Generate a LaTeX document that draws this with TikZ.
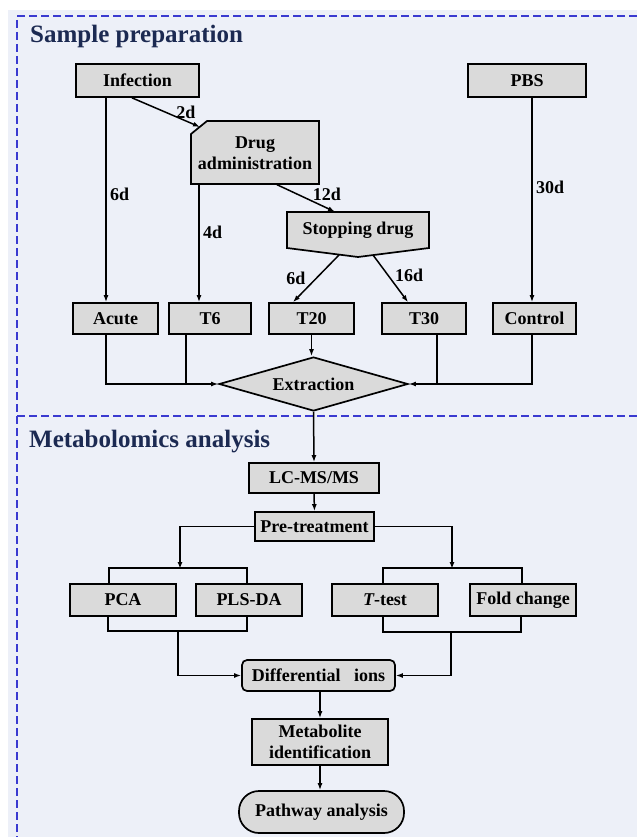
\documentclass[tikz,border=0pt]{standalone}
\usepackage{fontspec}
\setmainfont{Liberation Serif}
\usepackage{tikz}
\usetikzlibrary{arrows.meta, shapes.geometric}

\definecolor{panelbg}{HTML}{EDF0F8}
\definecolor{boxgray}{HTML}{DADADA}
\definecolor{dashblue}{HTML}{3A3AD0}
\definecolor{headnavy}{HTML}{1C2A52}

\begin{document}
\begin{tikzpicture}[x=1pt, y=-1pt,
    box/.style={draw=black, fill=boxgray, line width=1.7pt, inner sep=0pt, align=center,
        font=\fontsize{18}{21}\selectfont\bfseries},
    bare/.style={inner sep=0pt, align=center, font=\fontsize{18}{21}\selectfont\bfseries},
    outline/.style={draw=black, fill=boxgray, line width=1.7pt},
    flow/.style={line width=1.5pt, -{Latex[length=7pt, width=5pt]}},
    link/.style={line width=1.5pt},
    days/.style={inner sep=0pt, font=\fontsize{18}{21}\selectfont\bfseries},
    heading/.style={inner sep=0pt, anchor=base west, text=headnavy,
        font=\fontsize{25}{28}\selectfont\bfseries},
    frame/.style={draw=dashblue, line width=1.5pt, dash pattern=on 8pt off 4pt}]
    \useasboundingbox (0,0) rectangle (637,837);
    \fill[white] (0,0) rectangle (637,837);
    \fill[panelbg] (8,10) rectangle (637,837);
    \draw[frame] (637,16) -- (17,16) -- (17,837);
    \draw[frame] (17,416) -- (637,416);

    \node[heading] (hsample) at (30,43) {Sample preparation};
    \node[heading] (hmetab) at (29,447) {Metabolomics analysis};

    \node[box, minimum width=123pt, minimum height=33pt] (infection) at (137.5,80.5) {Infection};
    \node[box, minimum width=118pt, minimum height=33pt] (pbs) at (527,80.5) {PBS};

    \filldraw[outline] (207,121) -- (319,121) -- (319,184) -- (191,184) -- (191,134) -- cycle;
    \node[bare, minimum width=128pt, minimum height=63pt] (drug) at (255,153) {Drug\\administration};
    \coordinate (drugin) at (200,127);

    \filldraw[outline] (287,212) -- (429,212) -- (429,248) -- (358,257) -- (287,248) -- cycle;
    \node[bare, minimum width=142pt, minimum height=36pt] (stop) at (358,230) {Stopping drug};
    \coordinate (stopl) at (339,255);
    \coordinate (stopr) at (373,255);

    \node[box, minimum width=85pt, minimum height=31pt] (acute) at (115.5,318.5) {Acute};
    \node[box, minimum width=82pt, minimum height=31pt] (t6) at (210,318.5) {T6};
    \node[box, minimum width=85pt, minimum height=31pt] (t20) at (311.5,318.5) {T20};
    \node[box, minimum width=84pt, minimum height=31pt] (t30) at (424,318.5) {T30};
    \node[box, minimum width=83pt, minimum height=31pt] (control) at (534.5,318.5) {Control};
    \node[box, diamond, aspect=3.5, minimum width=189pt, minimum height=54pt] (extract) at (313.5,384) {Extraction};

    \draw[flow] ([xshift=-5.5pt]infection.south) -- (drugin);
    \draw[flow] ([xshift=-31.5pt]infection.south) -- ([xshift=-9.5pt]acute.north);
    \draw[flow] ([xshift=-56pt]drug.south) -- ([xshift=-11pt]t6.north);
    \draw[flow] ([xshift=22pt]drug.south) -- ([xshift=-23pt]stop.north);
    \draw[flow] ([xshift=5pt]pbs.south) -- ([xshift=-2.5pt]control.north);
    \draw[flow] (stopl) -- ([xshift=-18.5pt]t20.north);
    \draw[flow] (stopr) -- ([xshift=-16pt]t30.north);

    \node[days] (d2) at (186,112) {2d};
    \node[days, anchor=west] (d6a) at (110,194) {6d};
    \node[days, anchor=west] (d4) at (203,232) {4d};
    \node[days] (d12) at (327,194) {12d};
    \node[days, anchor=west] (d30) at (536,187) {30d};
    \node[days] (d6b) at (296,278) {6d};
    \node[days] (d16) at (409,275) {16d};

    \draw[flow] ([xshift=-9.5pt]acute.south) |- (extract.west);
    \draw[link] ([xshift=-24pt]t6.south) -- ([xshift=-24pt]t6.south |- extract.west);
    \draw[flow] (t20.south) -- (t20.south |- extract.north);
    \draw[flow] ([xshift=-2.5pt]control.south) |- (extract.east);
    \draw[link] ([xshift=13pt]t30.south) -- ([xshift=13pt]t30.south |- extract.east);

    \node[box, minimum width=130pt, minimum height=30pt] (lcms) at (314,478) {LC-MS/MS};
    \node[box, minimum width=119pt, minimum height=29pt] (pretreat) at (314.5,526.5) {Pre-treatment};
    \node[box, minimum width=106pt, minimum height=32pt] (pca) at (123,600) {PCA};
    \node[box, minimum width=106pt, minimum height=32pt] (plsda) at (249,600) {PLS-DA};
    \node[box, minimum width=106pt, minimum height=32pt] (ttest) at (385,600) {{\itshape T}-test};
    \node[box, minimum width=106pt, minimum height=32pt] (fold) at (523,600) {Fold change};
    \node[box, rounded corners=5pt, minimum width=153pt, minimum height=31pt] (diff) at (318.5,675.5) {Differential\hspace{9pt} ions};
    \node[box, minimum width=136pt, minimum height=46pt] (metab) at (320,742) {Metabolite\\identification};
    \node[box, rounded corners=20pt, minimum width=165pt, minimum height=42pt] (pathway) at (321.5,812) {Pathway analysis};

    \coordinate (lefttop) at (180,569);
    \coordinate (righttop) at (452,569);
    \coordinate (leftbot) at (178,630);
    \coordinate (rightbot) at (451,631);

    \draw[flow] (extract.south) -- (lcms.north);
    \draw[flow] (lcms.south) -- (pretreat.north);
    \draw[flow] (pretreat.west) -| (lefttop);
    \draw[flow] (pretreat.east) -| (righttop);
    \draw[link] ([xshift=-14pt]pca.north) -- ++(0,-15) -| ([xshift=-2pt]plsda.north);
    \draw[link] ([xshift=-2pt]ttest.north) -- ++(0,-15) -| ([xshift=-1pt]fold.north);
    \draw[link] ([xshift=-15pt]pca.south) -- ++(0,14) -| ([xshift=-2pt]plsda.south);
    \draw[link] ([xshift=-2pt]ttest.south) -- ++(0,15) -| ([xshift=-2pt]fold.south);
    \draw[flow] (leftbot) |- (diff.west);
    \draw[flow] (rightbot) |- (diff.east);
    \draw[flow] ([xshift=1.5pt]diff.south) -- (metab.north);
    \draw[flow] (metab.south) -- ([xshift=-1.5pt]pathway.north);
\end{tikzpicture}
\end{document}
